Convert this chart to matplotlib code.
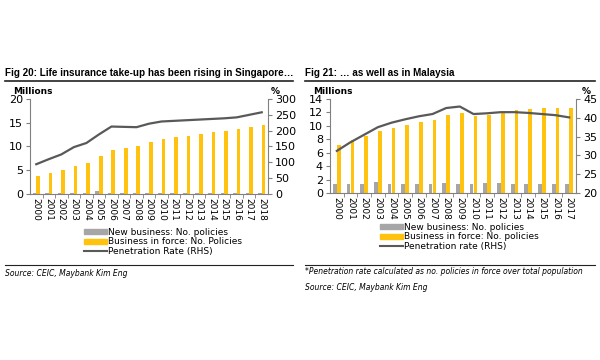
"""Life insurance take-up: Singapore vs Malaysia (two panels)."""

import matplotlib
matplotlib.use("Agg")
import matplotlib.pyplot as plt
from matplotlib.lines import Line2D
from matplotlib.patches import Patch

SG_YEARS = [str(y) for y in range(2000, 2019)]
SG_NEW = [0.15, 0.15, 0.2, 0.15, 0.15, 0.6, 0.2, 0.2, 0.15, 0.2, 0.2, 0.2, 0.2, 0.2, 0.2, 0.2, 0.2, 0.2, 0.2]
SG_FORCE = [3.8, 4.5, 5.1, 6.0, 6.6, 8.0, 9.3, 9.7, 10.1, 11.0, 11.5, 11.9, 12.3, 12.7,
            13.0, 13.3, 13.6, 14.0, 14.5]
SG_PEN = [94, 110, 125, 148, 161, 188, 213, 212, 211, 222, 229, 231, 233, 235, 237, 239,
          242, 250, 258]

MY_YEARS = [str(y) for y in range(2000, 2018)]
MY_NEW = [1.35, 1.35, 1.35, 1.6, 1.35, 1.35, 1.3, 1.35, 1.55, 1.35, 1.4, 1.5, 1.5, 1.35,
          1.35, 1.35, 1.4, 1.35]
MY_FORCE = [7.2, 7.9, 8.5, 9.2, 9.7, 10.2, 10.6, 10.9, 11.6, 11.9, 11.5, 11.6, 12.0, 12.3,
            12.5, 12.6, 12.6, 12.7]
MY_PEN = [31.2, 33.5, 35.5, 37.5, 38.7, 39.6, 40.4, 41.0, 42.6, 43.0, 41.0, 41.2, 41.5,
          41.5, 41.3, 41.0, 40.7, 40.1]

GREY = "#a6a6a6"
YELLOW = "#ffc20e"
LINE = "#595959"
W, H = 600, 360

plt.rcParams["font.family"] = ["DejaVu Sans"]
fig = plt.figure(figsize=(6, 3.6), dpi=100)


def px(x0, y0, x1, y1):
    return [x0 / W, 1 - y1 / H, (x1 - x0) / W, (y1 - y0) / H]


def panel(box, years, new, force, pen, ylim, yticks, rlim, rticks):
    ax = fig.add_axes(px(*box))
    x = list(range(len(years)))
    bw = 0.29
    ax.bar([i - bw / 2 for i in x], new, width=bw, color=GREY, zorder=2)
    ax.bar([i + bw / 2 for i in x], force, width=bw, color=YELLOW, zorder=2)
    ax.set_xlim(-0.5, len(years) - 0.5)
    ax.set_ylim(*ylim)
    ax.set_yticks(yticks)
    ax.set_xticks(x)
    ax.set_xticklabels(years, rotation=270, fontsize=6.5)
    ax.set_xticks([i + 0.5 for i in x[:-1]], minor=True)
    ax.tick_params(axis="x", which="major", length=0, pad=3)
    ax.tick_params(axis="x", which="minor", length=3, color="#808080")
    ax.tick_params(axis="y", labelsize=8, length=3, color="#808080", pad=2)
    for s in ("top", "right"):
        ax.spines[s].set_visible(False)
    for s in ("left", "bottom"):
        ax.spines[s].set_color("#808080")
    ax2 = ax.twinx()
    ax2.plot(x, pen, color=LINE, lw=1.6, zorder=3)
    ax2.set_ylim(*rlim)
    ax2.set_yticks(rticks)
    ax2.tick_params(axis="y", labelsize=8, length=3, color="#808080", pad=2)
    for s in ("top", "left", "bottom"):
        ax2.spines[s].set_visible(False)
    ax2.spines["right"].set_color("#808080")
    return ax


panel((30, 99, 268, 194), SG_YEARS, SG_NEW, SG_FORCE, SG_PEN,
      (0, 20), [0, 5, 10, 15, 20], (0, 300), list(range(0, 301, 50)))
panel((330, 99, 576, 193), MY_YEARS, MY_NEW, MY_FORCE, MY_PEN,
      (0, 14), list(range(0, 15, 2)), (20, 45), list(range(20, 46, 5)))


def ftext(xp, yp, s, **kw):
    fig.text(xp / W, 1 - yp / H, s, **kw)


def hline(x0, x1, yp, lw):
    fig.add_artist(Line2D([x0 / W, x1 / W], [1 - yp / H] * 2, color="#222222", lw=lw))


title_kw = dict(fontsize=7.1, fontweight="bold", va="center",
                family=["Liberation Sans", "DejaVu Sans"])
ftext(5, 73, "Fig 20: Life insurance take-up has been rising in Singapore…", **title_kw)
ftext(305, 73, "Fig 21: … as well as in Malaysia", **title_kw)
hline(5, 293, 80.5, 1.2)
hline(305, 595, 80.5, 1.2)
ftext(13, 91, "Millions", fontsize=6.5, fontweight="bold", va="center")
ftext(313, 91, "Millions", fontsize=6.5, fontweight="bold", va="center")
ftext(275, 91, "%", fontsize=6.5, fontweight="bold", va="center", ha="center")
ftext(586, 91, "%", fontsize=6.5, fontweight="bold", va="center", ha="center")

handles = [Patch(color=GREY), Patch(color=YELLOW), Line2D([], [], color=LINE, lw=1.5)]
legend_kw = dict(loc="upper left", frameon=False, fontsize=6.5, handlelength=2.6,
                 handleheight=0.5, handletextpad=0.1, labelspacing=0.05, borderpad=0,
                 borderaxespad=0)
fig.legend(handles, ["New business: No. policies", "Business in force: No. Policies",
                     "Penetration Rate (RHS)"],
           bbox_to_anchor=(84 / W, 1 - 228 / H), **legend_kw)
fig.legend(handles, ["New business: No. policies", "Business in force: No. policies",
                     "Penetration rate (RHS)"],
           bbox_to_anchor=(380 / W, 1 - 223 / H), **legend_kw)

hline(5, 293, 265, 0.8)
hline(305, 595, 265, 0.8)
ftext(5, 273, "Source: CEIC, Maybank Kim Eng", fontsize=5.5, style="italic", va="center")
ftext(305, 272, "*Penetration rate calculated as no. policies in force over total population",
      fontsize=5.5, style="italic", va="center")
ftext(305, 288, "Source: CEIC, Maybank Kim Eng", fontsize=5.5, style="italic", va="center")

fig.savefig("out.png", dpi=100)
